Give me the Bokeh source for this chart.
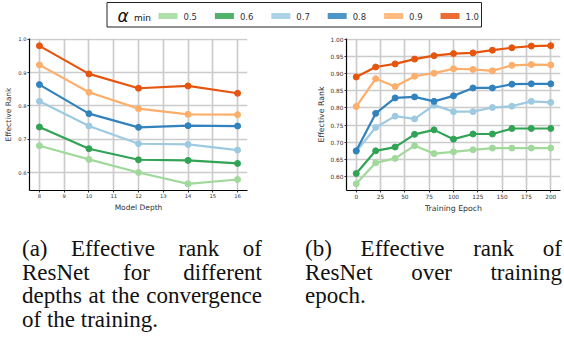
from bokeh.plotting import figure
from bokeh.layouts import column, row
from bokeh.models import Range1d, PrintfTickFormatter, Div
from bokeh.embed import file_html
from bokeh.resources import INLINE
from bokeh.core.properties import value

# ---------------- data ----------------
alpha_labels = ["0.5", "0.6", "0.7", "0.8", "0.9", "1.0"]
colors = ["#a1d99b", "#31a354", "#9ecae1", "#3182bd", "#fdae6b", "#e6550d"]

depths = [8, 10, 12, 14, 16]
depth_a05 = [0.681, 0.640, 0.601, 0.567, 0.580]
depth_a06 = [0.737, 0.672, 0.639, 0.637, 0.628]
depth_a07 = [0.814, 0.740, 0.687, 0.685, 0.668]
depth_a08 = [0.864, 0.777, 0.736, 0.741, 0.740]
depth_a09 = [0.923, 0.841, 0.792, 0.775, 0.774]
depth_a10 = [0.980, 0.896, 0.853, 0.860, 0.838]

epochs = [0, 20, 40, 60, 80, 100, 120, 140, 160, 180, 200]
epoch_a05 = [0.579, 0.640, 0.653, 0.690, 0.667, 0.672, 0.678, 0.683, 0.683, 0.683, 0.683]
epoch_a06 = [0.609, 0.675, 0.686, 0.723, 0.736, 0.709, 0.724, 0.724, 0.740, 0.740, 0.740]
epoch_a07 = [0.673, 0.743, 0.776, 0.768, 0.808, 0.789, 0.789, 0.801, 0.805, 0.819, 0.816]
epoch_a08 = [0.675, 0.784, 0.829, 0.832, 0.819, 0.835, 0.858, 0.858, 0.869, 0.870, 0.870]
epoch_a09 = [0.804, 0.885, 0.862, 0.892, 0.901, 0.914, 0.912, 0.908, 0.924, 0.926, 0.925]
epoch_a10 = [0.890, 0.919, 0.928, 0.942, 0.952, 0.958, 0.960, 0.968, 0.975, 0.980, 0.981]

depth_ticks = [8, 9, 10, 11, 12, 13, 14, 15, 16]
depth_yticks = [0.6, 0.7, 0.8, 0.9, 1.0]
epoch_ticks = [0, 25, 50, 75, 100, 125, 150, 175, 200]
epoch_yticks = [0.60, 0.65, 0.70, 0.75, 0.80, 0.85, 0.90, 0.95, 1.00]

caption_a = "(a) Effective rank of ResNet for different depths at the convergence of the training."
caption_b = "(b) Effective rank of ResNet over training epoch."

FONT = "DejaVu Sans"


def make_chart(xs, series, xr, yr, xticks, yticks, yfmt, xlabel,
               borders, tick_size, label_size):
    left, right, top, bottom = borders
    p = figure(width=282, height=185, x_range=Range1d(*xr), y_range=Range1d(*yr),
               output_backend="svg", toolbar_location=None, title=None,
               min_border_left=left, min_border_right=right,
               min_border_top=top, min_border_bottom=bottom, margin=0)
    p.outline_line_color = None
    p.background_fill_color = "white"
    p.border_fill_color = "white"
    p.xaxis.ticker = xticks
    p.yaxis.ticker = yticks
    p.yaxis.formatter = PrintfTickFormatter(format=yfmt)
    p.grid.grid_line_color = "#cccccc"
    p.grid.grid_line_width = 1.7
    for ax in (p.xaxis[0], p.yaxis[0]):
        ax.axis_line_color = "black"
        ax.axis_line_width = 1.2
        ax.major_tick_line_color = "#333333"
        ax.major_tick_out = 2
        ax.major_tick_in = 0
        ax.minor_tick_out = 0
        ax.minor_tick_in = 0
        ax.major_label_text_font = FONT
        ax.major_label_text_font_size = tick_size
        ax.major_label_text_color = "#333333"
        ax.major_label_standoff = 1
        ax.axis_label_text_font = FONT
        ax.axis_label_text_font_size = label_size
        ax.axis_label_text_font_style = "normal"
        ax.axis_label_text_color = "#333333"
        ax.axis_label_standoff = 2
    p.xaxis.axis_label = xlabel
    p.yaxis.axis_label = "Effective Rank"
    for ys, c in zip(series, colors):
        p.line(xs, ys, line_color=c, line_width=2.2)
        p.scatter(xs, ys, size=6, fill_color=c, line_color=c)
    return p


fig_a = make_chart(depths, [depth_a05, depth_a06, depth_a07, depth_a08, depth_a09, depth_a10],
                   (7.6, 16.4), (0.547, 1.002), depth_ticks, depth_yticks, "%.1f",
                   "Model Depth", (29, 35, 7, 21), "5.2px", "7.5px")
fig_b = make_chart(epochs, [epoch_a05, epoch_a06, epoch_a07, epoch_a08, epoch_a09, epoch_a10],
                   (-10, 210), (0.5595, 1.002), epoch_ticks, epoch_yticks, "%.2f",
                   "Training Epoch", (64, 4, 8, 21), "5.8px", "7.8px")

# ---------------- legend ----------------
leg = figure(width=564, height=30, x_range=Range1d(0, 564), y_range=Range1d(30, 0),
             output_backend="svg", toolbar_location=None, title=None,
             x_axis_type=None, y_axis_type=None, min_border=0, margin=0)
leg.outline_line_color = None
leg.grid.visible = False
leg.quad(left=[106.5], right=[481], top=[2], bottom=[26.5],
         fill_color="white", line_color="#222222", line_width=1)
item_x = [158 + i * 56.4 for i in range(len(alpha_labels))]
leg.rect(x=[x + 9.5 for x in item_x], y=[15.5] * len(item_x), width=19, height=6,
         fill_color=colors, line_color=None, fill_alpha=0.85)
leg.text(x=[x + 25 for x in item_x], y=[15.5] * len(item_x), text=alpha_labels,
         text_font=value(FONT), text_font_size="8.5px", text_baseline="middle",
         text_color="#333333")
leg.text(x=[117], y=[15], text=["α"], text_font=value(FONT), text_font_style="italic",
         text_font_size="17px", text_baseline="middle", text_color="#111111")
leg.text(x=[133.5], y=[17.5], text=["min"], text_font=value(FONT),
         text_font_size="9px", text_baseline="middle", text_color="#111111")

# ---------------- captions ----------------
cap_style = ("font-family: 'Liberation Serif', 'Times New Roman', serif; font-size: 23px; "
             "line-height: 23.5px; text-align: justify; color: #111;")
div_a = Div(text=f'<div style="{cap_style} width: 240px; margin-left: 22px; margin-top: 22px;">{caption_a}</div>',
            width=282, height=122, margin=0)
div_b = Div(text=f'<div style="{cap_style} width: 257px; margin-left: 23px; margin-top: 22px;">{caption_b}</div>',
            width=282, height=122, margin=0)

layout = column(leg, row(fig_a, fig_b, margin=0), row(div_a, div_b, margin=0), margin=0)

open("out.html", "w").write(file_html(layout, INLINE))
